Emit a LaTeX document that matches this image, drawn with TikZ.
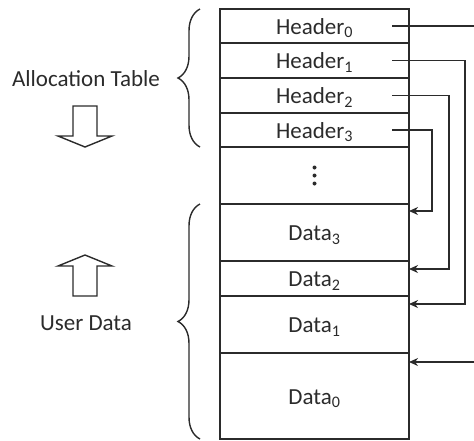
\documentclass[tikz,border=0pt]{standalone}
\usepackage{fontspec}
\setmainfont{Carlito}
\usetikzlibrary{positioning,arrows.meta,decorations.pathreplacing}
\definecolor{ink}{HTML}{2B2B2B}

\begin{document}
\begin{tikzpicture}[x=1pt,y=-1pt,
	every node/.append style={font=\fontsize{23}{27}\selectfont, text=ink},
	cell/.style={draw=ink, line width=1.5pt, minimum width=189pt, inner sep=0pt, outer sep=0pt, text height=16.5pt, text depth=0pt},
	link/.style={draw=ink, line width=1.4pt, -{Stealth[length=9pt,width=8pt]}},
	brace/.style={draw=ink, line width=1.4pt, decorate, decoration={brace, amplitude=22pt}},
	blockarrow/.style={draw=ink, line width=1.4pt, fill=white}]
	\useasboundingbox (0,0) rectangle (474,440);
	\node[cell, minimum height=34pt, anchor=north west] (h0) at (220,9) {Header\textsubscript{0}};
	\node[cell, minimum height=35pt, below=0pt of h0] (h1) {Header\textsubscript{1}};
	\node[cell, minimum height=35pt, below=0pt of h1] (h2) {Header\textsubscript{2}};
	\node[cell, minimum height=34pt, below=0pt of h2] (h3) {Header\textsubscript{3}};
	\node[cell, minimum height=57pt, below=0pt of h3] (gap) {};
	\node[cell, minimum height=57pt, below=0pt of gap] (d3) {Data\textsubscript{3}};
	\node[cell, minimum height=35pt, below=0pt of d3] (d2) {Data\textsubscript{2}};
	\node[cell, minimum height=57pt, below=0pt of d2] (d1) {Data\textsubscript{1}};
	\node[cell, minimum height=86pt, below=0pt of d1] (d0) {Data\textsubscript{0}};
	\foreach \dy in {-8,0,8}
		\fill[ink] ([yshift=\dy pt]gap.center) circle (2pt);

	\draw[draw=ink, line width=1.4pt] ([xshift=-17pt]h0.east) -- ++(82,0);
	\draw[link] ([xshift=-17pt]h1.east) -- ++(73,0) |- ([yshift=-8pt]d1.north east);
	\draw[link] ([xshift=-17pt]h2.east) -- ++(57,0) |- ([yshift=-8pt]d2.north east);
	\draw[link] ([xshift=-17pt]h3.east) -- ++(40,0) |- ([yshift=-7pt]d3.north east);
	\draw[link] ([xshift=65pt,yshift=-9pt]d0.north east) -- ([yshift=-9pt]d0.north east);

	\draw[brace] ([xshift=-20pt]h3.south west) -- ([xshift=-20pt]h0.north west);
	\draw[brace] ([xshift=-20pt]d0.south west) -- ([xshift=-20pt]d3.north west);

	\node[anchor=base] (alloc) at (86,86) {Allocation Table};
	\node[anchor=base] (user) at (86,330) {User Data};

	\draw[blockarrow] (73,106) -- (97,106) -- (97,136) -- (112,136) -- (85,147) -- (58,136) -- (73,136) -- cycle;
	\draw[blockarrow] (85,255) -- (112,266) -- (97,266) -- (97,296) -- (73,296) -- (73,266) -- (58,266) -- cycle;
\end{tikzpicture}
\end{document}
